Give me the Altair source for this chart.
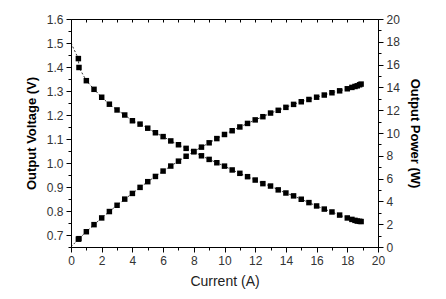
import altair as alt
import pandas as pd

# Data
current = [0.0, 0.48, 0.52, 1.0, 1.5, 2.0, 2.5, 3.0, 3.5, 4.0, 4.5, 5.0, 5.5, 6.0, 6.5,
           7.0, 7.5, 8.0, 8.5, 9.0, 9.5, 10.0, 10.5, 11.0, 11.5, 12.0, 12.5, 13.0,
           13.5, 14.0, 14.5, 15.0, 15.5, 16.0, 16.5, 17.0, 17.5, 18.0, 18.3, 18.5,
           18.65, 18.8, 18.9]
voltage = [1.500, 1.435, 1.398, 1.343, 1.307, 1.274, 1.245, 1.221, 1.200, 1.176, 1.162,
           1.145, 1.126, 1.110, 1.092, 1.076, 1.061, 1.047, 1.030, 1.015, 1.001, 0.987,
           0.971, 0.957, 0.943, 0.929, 0.914, 0.904, 0.888, 0.875, 0.863, 0.849, 0.835,
           0.821, 0.808, 0.796, 0.783, 0.771, 0.765, 0.761, 0.758, 0.757, 0.756]
power = [0.00, 0.69, 0.73, 1.34, 1.96, 2.55, 3.11, 3.66, 4.20, 4.70, 5.23, 5.73, 6.19,
         6.66, 7.10, 7.53, 7.96, 8.38, 8.76, 9.14, 9.51, 9.87, 10.20, 10.53, 10.84,
         11.15, 11.43, 11.75, 11.99, 12.25, 12.51, 12.74, 12.94, 13.14, 13.33, 13.53,
         13.70, 13.88, 14.00, 14.08, 14.14, 14.23, 14.29]
marker = [False] + [True] * (len(current) - 1)

x_ticks = list(range(0, 21))
v_ticks = [round(0.65 + 0.05 * i, 2) for i in range(20)]
p_ticks = list(range(0, 21))

df = pd.DataFrame({"current": current, "voltage": voltage, "power": power, "marker": marker})

FONT = "Liberation Sans"
LABEL_COLOR = "#333333"

x_scale = alt.Scale(domain=[0, 20], nice=False, zero=False)
v_scale = alt.Scale(domain=[0.65, 1.6], nice=False, zero=False)
p_scale = alt.Scale(domain=[0, 20], nice=False, zero=False)

x_axis = alt.Axis(
    orient="bottom", values=x_ticks, title="Current (A)",
    labelExpr="datum.value % 2 == 0 ? datum.label : ''",
    tickSize={"condition": {"test": "datum.value % 2 == 0", "value": 5}, "value": 3},
    labelFont=FONT, labelFontSize=12, labelColor=LABEL_COLOR, labelPadding=3,
    titleFont=FONT, titleFontSize=14, titleFontWeight="normal", titleColor="#222222",
    titlePadding=8, grid=False, domainColor="black", tickColor="black", labelFlush=False,
)
x_top_axis = alt.Axis(
    orient="top", values=x_ticks, labels=False, title=None, domain=False,
    tickSize=3, offset=-3, tickColor="black", grid=False,
)
v_axis = alt.Axis(
    orient="left", values=v_ticks, title="Output Voltage (V)", format=".1f",
    labelExpr="abs(round(datum.value*10) - datum.value*10) < 0.001 ? format(datum.value, '.1f') : ''",
    tickSize={"condition": {"test": "abs(round(datum.value*10) - datum.value*10) < 0.001", "value": 5}, "value": 3},
    labelFont=FONT, labelFontSize=12, labelColor=LABEL_COLOR, labelPadding=3,
    titleFont=FONT, titleFontSize=13, titleFontWeight="bold", titleColor="black",
    titlePadding=8, grid=False, domainColor="black", tickColor="black", labelFlush=False,
)
p_axis = alt.Axis(
    orient="right", values=p_ticks, title="Output Power (W)",
    labelExpr="datum.value % 2 == 0 ? datum.label : ''",
    tickSize={"condition": {"test": "datum.value % 2 == 0", "value": 5}, "value": 3},
    labelFont=FONT, labelFontSize=12, labelColor=LABEL_COLOR, labelPadding=3,
    titleFont=FONT, titleFontSize=13, titleFontWeight="bold", titleColor="black",
    titlePadding=8, grid=False, domainColor="black", tickColor="black", labelFlush=False,
)

base = alt.Chart(df)

v_line = base.mark_line(color="black", strokeWidth=0.8, strokeDash=[2, 2]).encode(
    x=alt.X("current:Q", scale=x_scale, axis=x_axis),
    y=alt.Y("voltage:Q", scale=v_scale, axis=v_axis),
)
v_pts = base.transform_filter("datum.marker").mark_point(
    shape="square", filled=True, color="black", size=30, opacity=1
).encode(
    x=alt.X("current:Q", scale=x_scale, axis=x_axis),
    y=alt.Y("voltage:Q", scale=v_scale, axis=v_axis),
)

p_line = base.mark_line(color="black", strokeWidth=0.8, strokeDash=[2, 2]).encode(
    x=alt.X("current:Q", scale=x_scale, axis=x_top_axis),
    y=alt.Y("power:Q", scale=p_scale, axis=p_axis),
)
p_pts = base.transform_filter("datum.marker").mark_point(
    shape="square", filled=True, color="black", size=30, opacity=1
).encode(
    x=alt.X("current:Q", scale=x_scale, axis=x_top_axis),
    y=alt.Y("power:Q", scale=p_scale, axis=p_axis),
)

volt = alt.layer(v_line, v_pts)
powr = alt.layer(p_line, p_pts)

chart = alt.layer(volt, powr).resolve_scale(y="independent").resolve_axis(
    x="independent", y="independent"
).properties(
    width=307, height=228,
    autosize=alt.AutoSizeParams(type="none"),
    padding={"left": 71, "top": 19, "right": 68, "bottom": 52},
    background="white",
).configure_view(stroke="black", strokeWidth=1)

chart.save("out.html", embed_options={"renderer": "svg", "actions": False})
